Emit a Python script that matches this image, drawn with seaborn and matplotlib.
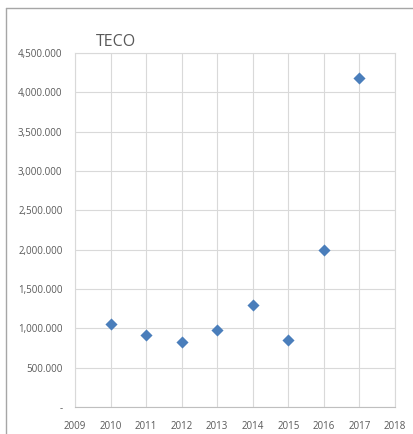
import matplotlib
matplotlib.use("Agg")
import matplotlib.pyplot as plt
import matplotlib.ticker as mticker
import pandas as pd
import seaborn as sns
from matplotlib.lines import Line2D

years = [2010, 2011, 2012, 2013, 2014, 2015, 2016, 2017]
values = [1056000, 916000, 830000, 978000, 1296000, 850000, 1997000, 4186000]

data = pd.DataFrame({"Year": years, "Value": values})

sns.set_style("white")
plt.rcParams['font.family'] = ['Open Sans', 'DejaVu Sans']

fig = plt.figure(figsize=(4.13, 4.34), dpi=100)
ax = fig.add_axes([75 / 413, 1 - 407 / 434, 320 / 413, 354 / 434])

sns.scatterplot(data=data, x="Year", y="Value", marker="D", s=38,
                color="#4a7ebb", edgecolor="#4a7ebb", linewidth=0, ax=ax, zorder=3)

ax.set_xlim(2009, 2018)
ax.set_ylim(0, 4500000)
ax.xaxis.set_major_locator(mticker.MultipleLocator(1))
ax.yaxis.set_major_locator(mticker.MultipleLocator(500000))


def fmt_y(v, pos):
    if v == 0:
        return "-"
    return "{:,.0f}".format(v / 1000) + ".000"


ax.yaxis.set_major_formatter(mticker.FuncFormatter(fmt_y))
ax.xaxis.set_major_formatter(mticker.FuncFormatter(lambda v, p: str(int(v))))
ax.grid(True, color="#d9d9d9", linewidth=0.8)
ax.set_axisbelow(True)
for side in ["top", "right", "left"]:
    ax.spines[side].set_color("#d9d9d9")
    ax.spines[side].set_linewidth(0.8)
ax.spines["bottom"].set_color("#bfbfbf")
ax.spines["bottom"].set_linewidth(0.8)
ax.tick_params(axis="both", length=0, labelsize=7, labelcolor="#595959")
ax.tick_params(axis="x", pad=10)
ax.tick_params(axis="y", pad=9)
ax.set_xlabel("")
ax.set_ylabel("")

fig.text(96 / 413, 1 - 42 / 434, "TECO", fontsize=11.5, color="#595959", va="center")

# outer chart frame
fig.add_artist(Line2D([6 / 413, 6 / 413], [0, 1 - 7.5 / 434], transform=fig.transFigure,
                      color="#a6a6a6", linewidth=1))
fig.add_artist(Line2D([6 / 413, 1], [1 - 7.5 / 434, 1 - 7.5 / 434], transform=fig.transFigure,
                      color="#a6a6a6", linewidth=1))

fig.savefig("out.png", dpi=100)
